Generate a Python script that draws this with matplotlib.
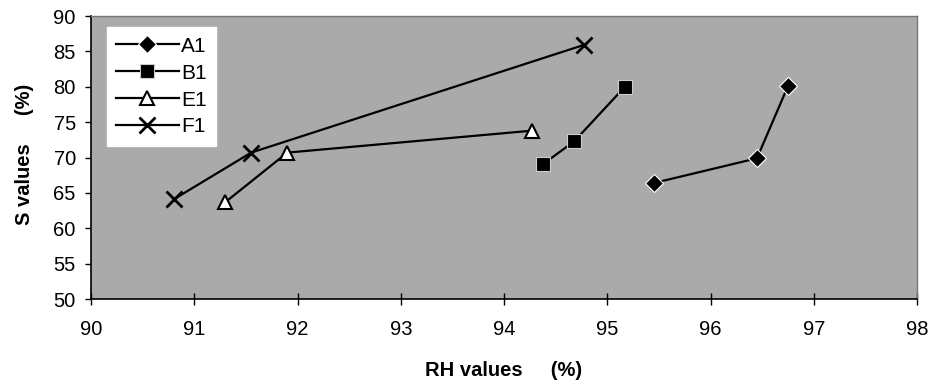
import matplotlib.pyplot as plt

plt.rcParams['font.family'] = ['Liberation Sans', 'DejaVu Sans']

# 讀圖估計的資料
a1_rh = [95.45, 96.45, 96.75]
a1_s = [66.4, 69.9, 80.1]
b1_rh = [94.38, 94.68, 95.17]
b1_s = [69.1, 72.3, 80.0]
e1_rh = [91.3, 91.9, 94.27]
e1_s = [63.7, 70.7, 73.8]
f1_rh = [90.8, 91.55, 94.77]
f1_s = [64.1, 70.7, 85.9]

x_ticks = [90, 91, 92, 93, 94, 95, 96, 97, 98]
y_ticks = [50, 55, 60, 65, 70, 75, 80, 85, 90]

fig = plt.figure(figsize=(9.3, 3.91), dpi=100)
ax = fig.add_axes([0.098, 0.235, 0.888, 0.724])
ax.set_facecolor('#aaaaaa')

lw = 1.6
ax.plot(a1_rh, a1_s, color='black', lw=lw, marker='D', ms=9, mfc='black', mec='white', mew=0.8, label='A1')
ax.plot(b1_rh, b1_s, color='black', lw=lw, marker='s', ms=10, mfc='black', mec='#cccccc', mew=0.8, label='B1')
ax.plot(e1_rh, e1_s, color='black', lw=lw, marker='^', ms=10, mfc='white', mec='black', mew=1.5, label='E1')
ax.plot(f1_rh, f1_s, color='black', lw=lw, marker='x', ms=11, mec='black', mew=2, label='F1')

ax.set_xlim(90, 98)
ax.set_ylim(50, 90)
ax.set_xticks(x_ticks)
ax.set_yticks(y_ticks)
ax.tick_params(axis='x', direction='inout', length=8, width=1, labelsize=14.5, pad=11)
ax.tick_params(axis='y', direction='out', length=4, width=1, labelsize=14.5, pad=7)

for s in ['left', 'bottom']:
    ax.spines[s].set_color('black')
    ax.spines[s].set_linewidth(1.2)
for s in ['top', 'right']:
    ax.spines[s].set_color('#777777')
    ax.spines[s].set_linewidth(1)

ax.set_xlabel('RH values     (%)', fontsize=14.5, fontweight='bold', labelpad=16)
ax.set_ylabel('S values     (%)', fontsize=14.5, fontweight='bold')
ax.yaxis.set_label_coords(-0.069, 0.51)

leg = ax.legend(loc='upper left', bbox_to_anchor=(0.019, 0.96), fontsize=15,
                frameon=True, fancybox=False, framealpha=1, edgecolor='white',
                handlelength=3, handletextpad=0.1, labelspacing=0.38, borderpad=0.45,
                borderaxespad=0)
leg.get_frame().set_facecolor('white')

fig.savefig('out.png', dpi=100)
